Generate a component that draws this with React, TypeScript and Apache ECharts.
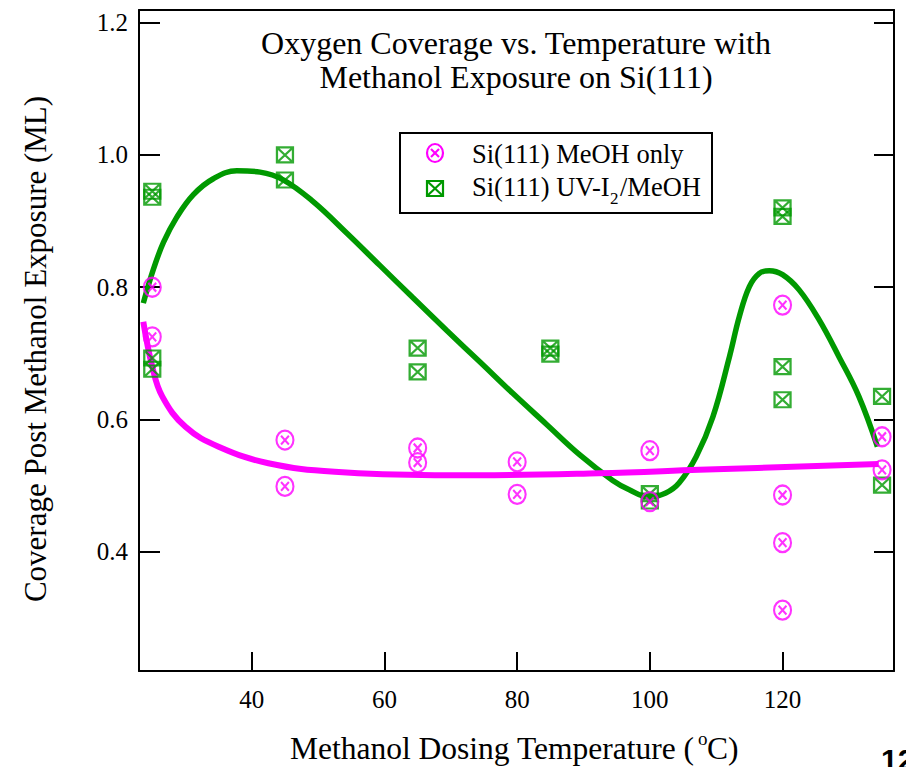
import React, { useEffect, useRef } from 'react';
import * as echarts from 'echarts';

// Measured points
const meohTemps = [25, 25, 45, 45, 65, 65, 80, 80, 100, 100, 120, 120, 120, 120, 135, 135];
const meohValues = [0.8, 0.725, 0.569, 0.499, 0.557, 0.535, 0.536, 0.487, 0.553, 0.476, 0.773, 0.486, 0.414, 0.312, 0.574, 0.524];
const uvTemps = [25, 25, 25, 25, 45, 45, 65, 65, 85, 85, 100, 100, 120, 120, 120, 120, 135, 135];
const uvValues = [0.945, 0.936, 0.693, 0.676, 1.0, 0.962, 0.708, 0.672, 0.708, 0.699, 0.488, 0.477, 0.92, 0.907, 0.68, 0.63, 0.635, 0.501];

// Fitted curves
const uvFitTemps = [23.65, 25.2, 26.7, 28.7, 31.2, 34.2, 37.75, 41.25, 44.8, 49.3, 54.3, 59.3, 64.3, 69.35, 74.4, 79.3, 84.4, 89.4, 94.4, 96.9, 99.85, 102.4, 104.4, 107.0, 109.5, 112.0, 113.5, 115.0, 116.5, 118.0, 120.0, 122.5, 125.5, 128.5, 131.5, 134.3];
const uvFitValues = [0.776, 0.828, 0.868, 0.906, 0.94, 0.964, 0.976, 0.974, 0.962, 0.929, 0.882, 0.833, 0.784, 0.735, 0.687, 0.64, 0.593, 0.547, 0.508, 0.494, 0.483, 0.489, 0.504, 0.544, 0.604, 0.695, 0.756, 0.801, 0.821, 0.825, 0.819, 0.796, 0.751, 0.695, 0.635, 0.559];
const meohFitTemps = [23.65, 25.0, 26.5, 30.0, 35.0, 42.5, 52.5, 67.6, 74.4, 92.3, 107.4, 134.5];
const meohFitValues = [0.748, 0.68, 0.635, 0.589, 0.559, 0.534, 0.521, 0.516, 0.516, 0.519, 0.524, 0.533];

const xTicks = [40, 60, 80, 100, 120];
const yTicks = [0.4, 0.6, 0.8, 1.0, 1.2];

const titleLines = ['Oxygen Coverage vs. Temperature with', 'Methanol Exposure on Si(111)'];
const legendLabels = ['Si(111) MeOH only', 'Si(111) UV-I', '2', '/MeOH'];

const MAGENTA = '#ff00ff';
const GREEN = '#009900';
const SERIF = '"Liberation Serif", "Times New Roman", serif';

const circleX =
  'path://M0,-10 C5.523,-10 10,-5.523 10,0 C10,5.523 5.523,10 0,10 C-5.523,10 -10,5.523 -10,0 C-10,-5.523 -5.523,-10 0,-10 Z M-4.6,-4.6 L4.6,4.6 M4.6,-4.6 L-4.6,4.6';
const squareX = 'path://M-8,-8 L8,-8 L8,8 L-8,8 Z M-8,-8 L8,8 M8,-8 L-8,8';

export default function App() {
  const ref = useRef<HTMLDivElement>(null);
  useEffect(() => {
    if (!ref.current) return;
    const chart = echarts.init(ref.current, undefined, { renderer: 'svg' });
    const axisLine = { show: true, lineStyle: { color: '#000', width: 2 } };
    const txt = (x: number, y: number, text: string, fontSize: number, align = 'left', extra: any = {}) => ({
      type: 'text',
      z: 11,
      style: { x, y, text, fontFamily: SERIF, fontSize, fill: '#000', textAlign: align, textVerticalAlign: 'middle', ...extra },
    });
    const option: any = {
      animation: false,
      backgroundColor: '#fff',
      grid: { left: 139, right: 12, top: 10, bottom: 96, containLabel: false },
      xAxis: [
        {
          type: 'value',
          min: 23,
          max: 136.8,
          axisLine,
          axisTick: { show: true, inside: true, length: 19, customValues: xTicks, lineStyle: { color: '#000', width: 2 } },
          axisLabel: {
            customValues: xTicks,
            margin: 16,
            color: '#000',
            fontFamily: SERIF,
            fontSize: 25,
          },
          splitLine: { show: false },
        },
        {
          type: 'value',
          position: 'top',
          min: 23,
          max: 136.8,
          axisLine,
          axisTick: { show: false },
          axisLabel: { show: false },
          splitLine: { show: false },
        },
      ],
      yAxis: [
        {
          type: 'value',
          min: 0.22,
          max: 1.219,
          axisLine,
          axisTick: { show: true, inside: true, length: 21, customValues: yTicks, lineStyle: { color: '#000', width: 2 } },
          axisLabel: {
            customValues: yTicks,
            margin: 11,
            color: '#000',
            fontFamily: SERIF,
            fontSize: 25,
            formatter: (v: number) => v.toFixed(1),
          },
          splitLine: { show: false },
        },
        {
          type: 'value',
          position: 'right',
          min: 0.22,
          max: 1.219,
          axisLine,
          axisTick: { show: true, inside: true, length: 20, customValues: yTicks, lineStyle: { color: '#000', width: 2 } },
          axisLabel: { show: false },
          splitLine: { show: false },
        },
      ],
      series: [
        {
          type: 'line',
          data: uvFitTemps.map((t, i) => [t, uvFitValues[i]]),
          showSymbol: false,
          smooth: 0.4,
          lineStyle: { color: GREEN, width: 5.5 },
          z: 2,
        },
        {
          type: 'line',
          data: meohFitTemps.map((t, i) => [t, meohFitValues[i]]),
          showSymbol: false,
          smooth: 0.4,
          lineStyle: { color: MAGENTA, width: 6 },
          z: 2,
        },
        {
          name: 'Si(111) UV-I2/MeOH',
          type: 'scatter',
          data: uvTemps.map((t, i) => [t, uvValues[i]]),
          symbol: squareX,
          symbolSize: [16, 15],
          itemStyle: { color: 'rgba(0,0,0,0)', borderColor: GREEN, borderWidth: 2.2 },
          z: 3,
        },
        {
          name: 'Si(111) MeOH only',
          type: 'scatter',
          data: meohTemps.map((t, i) => [t, meohValues[i]]),
          symbol: circleX,
          symbolSize: [17, 19],
          itemStyle: { color: 'rgba(0,0,0,0)', borderColor: MAGENTA, borderWidth: 2.2 },
          z: 4,
        },
      ],
      graphic: [
        txt(516, 43, titleLines[0], 32, 'center'),
        txt(516, 77, titleLines[1], 32, 'center'),
        // Legend box
        {
          type: 'rect',
          shape: { x: 400, y: 133, width: 312, height: 80 },
          style: { fill: '#fff', stroke: '#000', lineWidth: 2 },
          z: 10,
        },
        {
          type: 'ellipse',
          shape: { cx: 435, cy: 153, rx: 8, ry: 9 },
          style: { fill: 'none', stroke: MAGENTA, lineWidth: 2.2 },
          z: 11,
        },
        { type: 'line', shape: { x1: 431, y1: 149, x2: 439, y2: 157 }, style: { stroke: MAGENTA, lineWidth: 2.2 }, z: 11 },
        { type: 'line', shape: { x1: 439, y1: 149, x2: 431, y2: 157 }, style: { stroke: MAGENTA, lineWidth: 2.2 }, z: 11 },
        {
          type: 'rect',
          shape: { x: 427, y: 181, width: 16, height: 15 },
          style: { fill: 'none', stroke: GREEN, lineWidth: 2.2 },
          z: 11,
        },
        { type: 'line', shape: { x1: 427, y1: 181, x2: 443, y2: 196 }, style: { stroke: GREEN, lineWidth: 2.2 }, z: 11 },
        { type: 'line', shape: { x1: 443, y1: 181, x2: 427, y2: 196 }, style: { stroke: GREEN, lineWidth: 2.2 }, z: 11 },
        txt(472, 154, legendLabels[0], 26.5),
        txt(472, 187, legendLabels[1], 26.5),
        txt(610, 198, legendLabels[2], 17),
        txt(620, 187, legendLabels[3], 26.5),
        // X axis title
        txt(290, 748, 'Methanol Dosing Temperature (', 31.5),
        txt(698, 738, 'o', 19),
        txt(707, 748, 'C)', 31.5),
        // Y axis title
        {
          type: 'text',
          x: 35,
          y: 349,
          rotation: Math.PI / 2,
          style: { x: 0, y: 0, text: 'Coverage Post Methanol Exposure (ML)', fontFamily: SERIF, fontSize: 31, fill: '#000', textAlign: 'center', textVerticalAlign: 'middle' },
        },
        // Page number
        {
          type: 'text',
          style: { x: 881, y: 744, text: '12', fontFamily: '"Liberation Sans", Arial, sans-serif', fontWeight: 'bold', fontSize: 30, fill: '#000', textAlign: 'left', textVerticalAlign: 'top' },
        },
      ],
    };
    chart.setOption(option);
    return () => chart.dispose();
  }, []);
  return <div ref={ref} style={{ position: 'absolute', left: 0, top: 0, width: 906, height: 767 }} />;
}
